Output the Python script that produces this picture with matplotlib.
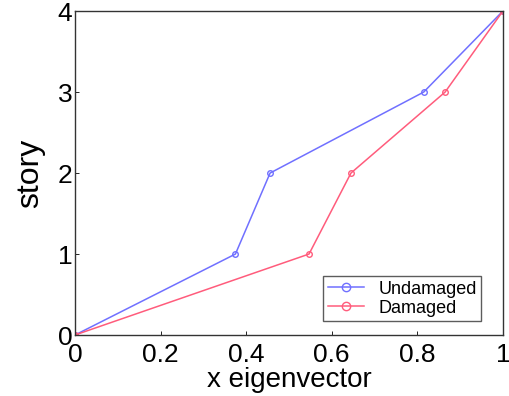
import matplotlib
matplotlib.use("Agg")
import matplotlib.pyplot as plt

plt.rcParams['font.family'] = ['Liberation Sans', 'DejaVu Sans']

story = [0, 1, 2, 3, 4]
undamaged = [0, 0.375, 0.456, 0.815, 1.0]
damaged = [0, 0.547, 0.645, 0.865, 1.0]
xticks = [0, 0.2, 0.4, 0.6, 0.8, 1]
yticks = [0, 1, 2, 3, 4]

fig = plt.figure(figsize=(5.1, 3.96), dpi=100)
ax = fig.add_axes([0.147, 0.154, 0.839, 0.818])
ax.plot(undamaged, story, '-o', color='#7070ff', lw=1.1, ms=4, mfc='none', mew=1.0, label='Undamaged')
ax.plot(damaged, story, '-o', color='#ff5c7c', lw=1.1, ms=4, mfc='none', mew=1.0, label='Damaged')
ax.set_xlim(0, 1)
ax.set_ylim(0, 4)
ax.set_xticks(xticks)
ax.set_xticklabels(['0', '0.2', '0.4', '0.6', '0.8', '1'])
ax.set_yticks(yticks)
ax.tick_params(direction='in', labelsize=19, length=3, width=0.6)
ax.tick_params(axis='x', pad=6)
ax.tick_params(axis='y', pad=2)
for s in ax.spines.values():
    s.set_linewidth(1.0)
    s.set_color('#333333')
ax.set_xlabel('x eigenvector', fontsize=20, labelpad=0)
ax.set_ylabel('story', fontsize=23, labelpad=9)
leg = ax.legend(loc='lower right', fontsize=13, frameon=True, fancybox=False,
                edgecolor='#333333', borderpad=0.25, handlelength=2.0,
                labelspacing=0.1, markerscale=1.5, borderaxespad=0,
                bbox_to_anchor=(0.949, 0.043))
leg.get_frame().set_linewidth(1.0)
fig.savefig('out.png', dpi=100)
